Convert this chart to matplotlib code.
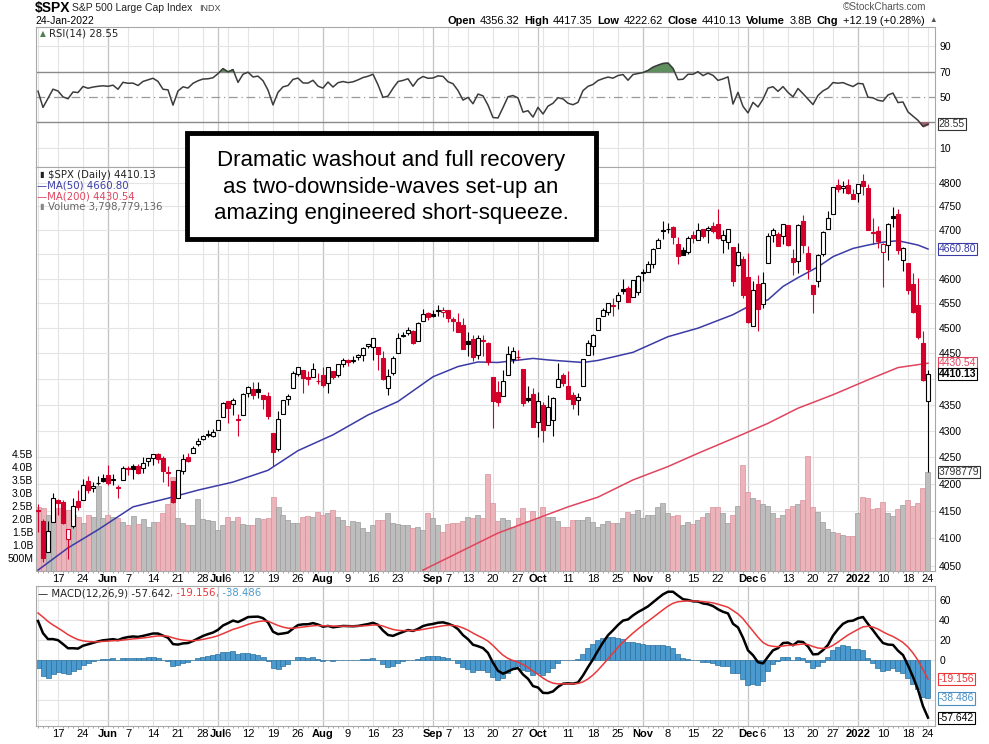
import numpy as np
import pandas as pd
import matplotlib
matplotlib.use('Agg')
import matplotlib.pyplot as plt
from matplotlib.patches import Rectangle
from matplotlib.transforms import blended_transform_factory as blend
from matplotlib.ticker import NullLocator

# ---------------- data ----------------
holidays = ['2021-05-31', '2021-07-05', '2021-09-06', '2021-11-25', '2021-12-24', '2022-01-17']
dates = [d for d in pd.bdate_range('2021-05-11', '2022-01-24') if d.strftime('%Y-%m-%d') not in holidays]

prev_close = 4188.43  # close of the day before the first bar

opens = [
    4150.3, 4130.6, 4075.0, 4129.6, 4169.9, 4165.9, 4098.5, 4121.0, 4168.6, 4170.2,
    4205.9, 4191.6, 4201.9, 4210.8, 4216.5, 4206.8, 4191.4, 4206.1, 4229.3, 4233.8,
    4233.0, 4228.6, 4242.9, 4248.3, 4255.3, 4248.9, 4220.4, 4204.8, 4173.4, 4224.6,
    4249.3, 4257.0, 4274.5, 4284.9, 4293.2, 4290.7, 4300.7, 4326.6, 4356.5, 4351.0,
    4321.1, 4329.4, 4372.4, 4381.1, 4380.1, 4369.0, 4367.4, 4296.4, 4265.1, 4331.1,
    4361.3, 4381.2, 4409.6, 4416.4, 4403.0, 4403.6, 4395.1, 4406.9, 4392.7, 4415.9,
    4407.9, 4429.1, 4437.8, 4435.8, 4442.2, 4446.1, 4464.8, 4461.7, 4462.1, 4440.9,
    4382.4, 4410.6, 4450.3, 4484.4, 4490.5, 4493.8, 4474.1, 4513.8, 4529.8, 4528.8,
    4534.5, 4532.4, 4535.4, 4518.1, 4513.0, 4506.9, 4474.8, 4479.3, 4447.5, 4477.1,
    4469.7, 4403.0, 4374.5, 4367.4, 4406.8, 4438.0, 4442.1, 4419.5, 4362.4, 4370.7,
    4317.2, 4348.8, 4309.9, 4319.6, 4383.7, 4406.5, 4385.4, 4368.3, 4358.0, 4386.8,
    4447.7, 4463.7, 4497.3, 4524.4, 4532.2, 4546.1, 4553.7, 4578.7, 4580.2, 4562.8,
    4572.9, 4610.6, 4613.3, 4630.7, 4662.9, 4699.3, 4701.5, 4707.3, 4670.3, 4659.4,
    4655.2, 4689.3, 4679.4, 4701.5, 4700.7, 4708.4, 4712.0, 4678.5, 4675.8, 4664.6,
    4628.8, 4640.3, 4602.8, 4504.7, 4589.5, 4548.4, 4632.0, 4690.9, 4691.0, 4687.6,
    4710.3, 4643.0, 4636.5, 4719.1, 4652.5, 4587.9, 4595.0, 4650.4, 4703.1, 4734.0,
    4795.5, 4788.6, 4794.2, 4775.2, 4778.1, 4804.5, 4788.0, 4693.4, 4697.7, 4655.3,
    4669.1, 4728.6, 4733.6, 4638.0, 4632.2, 4588.0, 4547.4, 4471.4, 4356.32]
highs = [
    4162.0, 4134.7, 4131.6, 4183.1, 4171.9, 4169.1, 4116.9, 4172.8, 4188.7, 4209.5,
    4213.4, 4202.6, 4213.4, 4218.4, 4234.1, 4217.4, 4197.4, 4233.5, 4232.3, 4236.7,
    4237.1, 4249.7, 4248.4, 4255.6, 4257.2, 4251.9, 4232.3, 4204.8, 4226.2, 4255.8,
    4256.6, 4271.3, 4286.1, 4292.1, 4300.5, 4302.4, 4320.7, 4355.4, 4356.5, 4361.9,
    4330.9, 4371.6, 4386.7, 4393.7, 4393.4, 4369.0, 4375.1, 4296.4, 4336.8, 4359.7,
    4369.9, 4415.2, 4422.7, 4416.4, 4415.5, 4430.0, 4412.3, 4422.2, 4423.8, 4416.2,
    4429.1, 4440.8, 4439.4, 4445.2, 4449.4, 4461.8, 4468.4, 4480.3, 4462.1, 4454.3,
    4418.6, 4444.4, 4489.9, 4492.8, 4501.7, 4495.9, 4513.3, 4537.4, 4531.4, 4537.1,
    4545.9, 4541.5, 4535.4, 4521.8, 4529.9, 4520.5, 4493.0, 4485.7, 4486.9, 4485.9,
    4471.5, 4403.0, 4394.9, 4416.8, 4465.4, 4463.1, 4457.3, 4419.5, 4385.6, 4382.6,
    4375.2, 4355.5, 4369.2, 4365.6, 4430.0, 4412.0, 4415.9, 4374.9, 4372.9, 4439.7,
    4475.8, 4488.8, 4520.4, 4540.9, 4551.4, 4559.7, 4572.6, 4598.5, 4584.6, 4597.6,
    4608.1, 4620.3, 4635.2, 4663.5, 4683.0, 4718.5, 4714.9, 4708.5, 4684.9, 4664.6,
    4688.5, 4697.4, 4715.0, 4701.5, 4708.8, 4717.8, 4743.8, 4699.4, 4702.9, 4664.6,
    4672.9, 4646.0, 4652.9, 4595.5, 4608.0, 4612.6, 4694.0, 4705.1, 4695.3, 4713.6,
    4710.3, 4660.5, 4712.6, 4732.0, 4666.7, 4587.9, 4651.1, 4697.7, 4740.7, 4791.5,
    4807.0, 4804.1, 4808.9, 4786.8, 4796.6, 4818.6, 4797.7, 4725.0, 4708.0, 4673.0,
    4714.1, 4748.8, 4744.1, 4665.1, 4632.2, 4611.6, 4602.1, 4494.5, 4417.35]
lows = [
    4111.5, 4056.9, 4075.0, 4129.6, 4142.7, 4125.0, 4061.4, 4119.0, 4151.7, 4170.2,
    4182.5, 4184.1, 4197.8, 4203.6, 4197.6, 4198.3, 4173.9, 4206.1, 4215.7, 4208.4,
    4218.7, 4220.3, 4233.0, 4234.1, 4238.4, 4202.5, 4196.1, 4164.4, 4173.4, 4217.3,
    4241.4, 4257.0, 4271.2, 4281.3, 4287.0, 4287.8, 4300.7, 4326.6, 4314.4, 4329.8,
    4289.4, 4329.4, 4364.0, 4360.9, 4362.4, 4340.7, 4322.5, 4233.1, 4262.1, 4331.1,
    4350.1, 4381.2, 4405.5, 4372.5, 4387.0, 4403.6, 4389.9, 4384.8, 4373.0, 4400.2,
    4404.4, 4424.0, 4424.7, 4430.0, 4436.4, 4435.5, 4460.7, 4437.7, 4417.8, 4397.6,
    4367.7, 4406.8, 4450.3, 4482.7, 4485.7, 4469.0, 4474.1, 4513.8, 4515.8, 4522.0,
    4524.7, 4521.6, 4513.0, 4494.0, 4492.1, 4457.7, 4445.7, 4435.5, 4438.4, 4443.8,
    4427.8, 4305.9, 4348.0, 4367.4, 4406.8, 4430.3, 4436.2, 4346.3, 4355.1, 4306.2,
    4288.5, 4278.9, 4309.9, 4290.5, 4383.7, 4386.2, 4360.6, 4342.1, 4329.9, 4386.8,
    4447.7, 4447.5, 4496.4, 4524.4, 4526.9, 4524.0, 4537.4, 4569.2, 4551.7, 4562.8,
    4567.6, 4595.1, 4613.3, 4621.2, 4662.6, 4681.3, 4694.4, 4670.9, 4630.9, 4648.3,
    4650.8, 4672.9, 4679.4, 4684.4, 4672.8, 4694.2, 4682.2, 4652.7, 4659.9, 4585.4,
    4625.3, 4560.0, 4510.3, 4504.7, 4495.1, 4540.5, 4632.0, 4674.5, 4666.0, 4670.2,
    4667.6, 4606.5, 4611.2, 4651.9, 4600.2, 4531.1, 4583.2, 4645.5, 4703.1, 4734.0,
    4780.0, 4778.1, 4775.3, 4765.8, 4758.2, 4774.3, 4699.4, 4671.3, 4662.7, 4582.2,
    4638.3, 4706.7, 4650.3, 4614.8, 4568.7, 4530.2, 4478.0, 4395.3, 4222.62]
closes = [
    4152.1, 4063.0, 4112.5, 4173.9, 4163.3, 4127.8, 4115.7, 4159.1, 4155.9, 4197.1,
    4188.1, 4196.0, 4200.9, 4204.1, 4202.0, 4208.1, 4192.9, 4229.9, 4226.5, 4227.3,
    4219.6, 4239.2, 4247.4, 4255.2, 4246.6, 4223.7, 4221.9, 4166.5, 4224.8, 4246.4,
    4241.8, 4266.5, 4280.7, 4290.6, 4291.8, 4297.5, 4319.9, 4352.3, 4343.5, 4358.1,
    4320.8, 4369.6, 4384.6, 4369.2, 4374.3, 4360.0, 4327.2, 4258.5, 4323.1, 4358.7,
    4367.5, 4411.8, 4422.3, 4401.5, 4400.6, 4419.2, 4395.3, 4387.2, 4423.2, 4402.7,
    4429.1, 4436.5, 4432.4, 4436.8, 4447.7, 4460.8, 4468.0, 4479.7, 4448.1, 4400.3,
    4405.8, 4441.7, 4479.5, 4486.2, 4496.2, 4470.0, 4509.4, 4528.8, 4522.7, 4524.1,
    4537.0, 4535.4, 4520.0, 4514.1, 4493.3, 4458.6, 4468.7, 4443.1, 4480.7, 4473.8,
    4433.0, 4357.7, 4354.2, 4395.6, 4449.0, 4455.5, 4443.1, 4352.6, 4359.5, 4307.5,
    4357.0, 4300.5, 4345.7, 4363.6, 4399.8, 4391.3, 4361.2, 4350.7, 4363.8, 4438.3,
    4471.4, 4486.5, 4519.6, 4536.2, 4549.8, 4544.9, 4566.5, 4574.8, 4551.7, 4596.4,
    4605.4, 4613.7, 4630.7, 4660.6, 4680.1, 4697.5, 4701.7, 4685.3, 4646.7, 4649.3,
    4682.9, 4682.8, 4700.9, 4688.7, 4704.5, 4698.0, 4682.9, 4690.7, 4701.5, 4594.6,
    4655.3, 4567.0, 4513.0, 4577.1, 4538.4, 4591.7, 4686.8, 4701.2, 4667.5, 4712.0,
    4669.0, 4634.1, 4709.9, 4668.7, 4620.6, 4568.0, 4649.2, 4696.6, 4725.8, 4791.2,
    4786.4, 4793.1, 4778.7, 4766.2, 4796.6, 4793.5, 4700.6, 4696.1, 4677.0, 4670.3,
    4713.1, 4726.4, 4659.0, 4662.9, 4577.1, 4532.8, 4482.7, 4397.9, 4410.13]
# volume, billions of shares
volumes = [
    2.44, 2.40, 2.15, 2.27, 2.40, 2.34, 2.34, 2.15, 2.08, 1.85,
    2.15, 2.08, 3.26, 2.02, 2.15, 2.08, 2.02, 1.89, 1.76, 2.11,
    1.80, 1.98, 1.70, 1.89, 1.89, 2.23, 2.57, 3.59, 2.02, 1.85,
    1.76, 1.76, 2.75, 1.99, 1.95, 1.93, 1.57, 1.76, 2.08, 1.93,
    2.08, 1.80, 1.75, 1.78, 2.02, 1.99, 2.02, 2.85, 2.46, 2.15,
    1.95, 1.83, 1.83, 2.08, 2.11, 2.08, 2.27, 2.15, 2.21, 2.34,
    2.08, 1.95, 1.72, 1.93, 1.89, 1.64, 1.51, 1.76, 1.95, 1.95,
    2.23, 1.85, 1.80, 1.76, 1.76, 1.66, 1.67, 1.57, 2.21, 2.02,
    1.76, 1.51, 1.80, 1.83, 1.85, 1.93, 2.08, 2.02, 2.13, 2.02,
    3.72, 2.62, 1.93, 2.02, 1.95, 1.67, 2.02, 2.40, 1.93, 2.30,
    2.02, 2.44, 2.08, 2.08, 1.93, 1.70, 1.70, 1.95, 1.95, 1.95,
    2.06, 1.89, 1.67, 1.80, 1.92, 1.85, 1.85, 2.02, 2.27, 2.18,
    2.34, 2.02, 2.15, 2.15, 2.46, 2.59, 2.23, 2.11, 2.15, 1.76,
    1.89, 1.80, 1.95, 2.08, 2.23, 2.44, 2.44, 2.23, 1.85, 2.15,
    2.49, 4.06, 3.04, 2.78, 2.72, 2.57, 2.49, 2.23, 2.02, 2.15,
    2.36, 2.49, 2.57, 2.72, 4.41, 2.46, 2.27, 1.89, 1.60, 1.51,
    1.47, 1.38, 1.34, 1.34, 2.23, 2.82, 2.78, 2.36, 2.43, 2.63,
    2.23, 2.11, 2.36, 2.53, 2.72, 2.49, 2.59, 3.17, 3.80]

# moving averages (trading-day number, value)
ma50_day = [0, 6, 12, 19, 26, 32, 39, 46, 52, 59, 66, 72, 79, 84, 88, 92, 99, 102, 109, 112,
            119, 126, 132, 139, 142, 146, 149, 152, 156, 159, 163, 166, 169, 172, 176, 178]
ma50_val = [4042, 4082, 4115, 4157, 4173, 4188, 4203, 4225, 4262, 4292, 4330, 4356, 4404, 4424,
            4433, 4432, 4440, 4437, 4432, 4436, 4452, 4483, 4500, 4527, 4543, 4557, 4584, 4602,
            4624, 4645, 4662, 4669, 4675, 4678, 4669, 4660.80]
ma200_day = [77, 92, 106, 112, 119, 126, 132, 139, 146, 152, 159, 166, 172, 178]
ma200_val = [4042, 4109, 4157, 4175, 4207, 4232, 4257, 4285, 4314, 4343, 4369, 4398, 4422, 4430.54]

# indicator state on the day before the first bar, estimated from the first readings
rsi_gain_start, rsi_loss_start = 13.1, 8.1
ema12_start, ema26_start, signal_start = 4185.0, 4140.0, 49.0

tick_dates = ['2021-05-17', '2021-05-24', '2021-06-01', '2021-06-07', '2021-06-14', '2021-06-21',
              '2021-06-28', '2021-07-01', '2021-07-06', '2021-07-12', '2021-07-19', '2021-07-26',
              '2021-08-02', '2021-08-09', '2021-08-16', '2021-08-23', '2021-09-01', '2021-09-07',
              '2021-09-13', '2021-09-20', '2021-09-27', '2021-10-01', '2021-10-11', '2021-10-18',
              '2021-10-25', '2021-11-01', '2021-11-08', '2021-11-15', '2021-11-22', '2021-12-01',
              '2021-12-06', '2021-12-13', '2021-12-20', '2021-12-27', '2022-01-03', '2022-01-10',
              '2022-01-18', '2022-01-24']
tick_texts = ['17', '24', 'Jun', '7', '14', '21', '28', 'Jul', '6', '12', '19', '26', 'Aug', '9',
              '16', '23', 'Sep', '7', '13', '20', '27', 'Oct', '11', '18', '25', 'Nov', '8', '15',
              '22', 'Dec', '6', '13', '20', '27', '2022', '10', '18', '24']
month_texts = {'Jun', 'Jul', 'Aug', 'Sep', 'Oct', 'Nov', 'Dec', '2022'}

price_ticks = list(range(4050, 4801, 50))
price_hidden = {4400, 4650}          # covered by the value boxes on the chart
vol_ticks = [0.5, 1.0, 1.5, 2.0, 2.5, 3.0, 3.5, 4.0, 4.5]
vol_tick_text = ['500M', '1.0B', '1.5B', '2.0B', '2.5B', '3.0B', '3.5B', '4.0B', '4.5B']
rsi_ticks = [10, 50, 70, 90]
macd_ticks = [0, 20, 40, 60]

# ---------------- indicators from the closes ----------------
n = len(closes)
x = np.arange(n)
c_arr = np.array(closes)
prevs = np.concatenate([[prev_close], c_arr[:-1]])

rsi = []
g, l = rsi_gain_start, rsi_loss_start
for ch in c_arr - prevs:
    g = (g * 13 + max(ch, 0)) / 14
    l = (l * 13 + max(-ch, 0)) / 14
    rsi.append(100 - 100 / (1 + g / l))
rsi = np.array(rsi)

macd, signal = [], []
e12, e26, sg = ema12_start, ema26_start, signal_start
for c in c_arr:
    e12 += (c - e12) * 2 / 13
    e26 += (c - e26) * 2 / 27
    m = e12 - e26
    sg += (m - sg) * 0.2
    macd.append(m)
    signal.append(sg)
macd, signal = np.array(macd), np.array(signal)
hist = macd - signal

# ---------------- figure ----------------
W, H = 989, 744
fig = plt.figure(figsize=(W / 100, H / 100), dpi=100)
fx = lambda px: px / W
fy = lambda py: 1 - py / H

RED = '#d4002c'
GRID = '#e4e4e4'
GRID_M = '#c4c4c4'
SPINE = '#a8a8a8'
FONT = ['Liberation Sans', 'DejaVu Sans']

left, right = 36, 935
ax_r = fig.add_axes([fx(left), fy(167), (right - left) / W, 140 / H])
ax_p = fig.add_axes([fx(left), fy(571), (right - left) / W, 404 / H])
ax_v = ax_p.twinx()
ax_m = fig.add_axes([fx(left), fy(726), (right - left) / W, 140 / H])

xlim = (-0.4, n + 0.4)
week_starts = [i for i in range(n) if i == 0 or dates[i].weekday() < dates[i - 1].weekday()]
month_starts = [i for i in range(1, n) if dates[i].month != dates[i - 1].month]
pos = {d.strftime('%Y-%m-%d'): i for i, d in enumerate(dates)}
tick_pos = [pos[d] for d in tick_dates]

def vgrid(ax):
    for i in week_starts:
        ax.axvline(i, color=GRID, lw=0.8, zorder=0)
    for i in month_starts:
        ax.axvline(i, color=GRID_M, lw=0.9, zorder=0)

def style(ax):
    for s in ax.spines.values():
        s.set_color(SPINE)
        s.set_linewidth(0.8)
    ax.set_xlim(*xlim)
    ax.tick_params(axis='y', which='both', length=0, labelsize=7.5, pad=3)

def value_box(ax, trans, yv, txt, col, wt='normal'):
    ax.text(1.004, yv, txt, transform=trans, ha='left', va='center', fontsize=7.5,
            family=FONT, color=col, weight=wt, zorder=6, clip_on=False,
            bbox=dict(boxstyle='square,pad=0.1', fc='white', ec=col, lw=0.8))

# ---- RSI panel ----
style(ax_r)
vgrid(ax_r)
ax_r.set_ylim(-5.1, 105.1)
for lv in (10, 90):
    ax_r.axhline(lv, color=GRID, lw=0.8, zorder=0)
ax_r.axhline(70, color='#8a8a8a', lw=1.0, zorder=1)
ax_r.axhline(30, color='#8a8a8a', lw=1.0, zorder=1)
ax_r.axhline(50, color='#9a9a9a', lw=0.9, ls=(0, (7, 3, 1, 3)), zorder=1)
ax_r.fill_between(x, rsi, 70, where=rsi > 70, interpolate=True, color='#5f8f5f', zorder=2)
ax_r.fill_between(x, rsi, 30, where=rsi < 30, interpolate=True, color='#a0606e', zorder=2)
ax_r.plot(x, rsi, color='#3c3c3c', lw=1.1, zorder=3)
ax_r.yaxis.tick_right()
ax_r.set_yticks(rsi_ticks)
ax_r.set_yticklabels([str(v) for v in rsi_ticks], family=FONT, fontsize=7.5)
ax_r.set_xticks([])
value_box(ax_r, blend(ax_r.transAxes, ax_r.transData), rsi[-1], '28.55', '#333333')

# ---- price panel (volume behind) ----
ax_p.set_zorder(2)
ax_v.set_zorder(1)
ax_p.patch.set_visible(False)
ax_v.patch.set_visible(True)
ax_v.patch.set_facecolor('white')
style(ax_p)
for s in ax_v.spines.values():
    s.set_visible(False)
ax_p.set_yscale('log')
ax_p.set_ylim(4040.4, 4833.5)
vol_top = 404 / 26.1
ax_v.set_ylim(0, vol_top)
vgrid(ax_v)
ht = blend(ax_v.transAxes, ax_p.transData)
for p in price_ticks:
    ax_v.plot([0, 1], [p, p], transform=ht, color=GRID, lw=0.8, zorder=0)

up = c_arr >= prevs
ax_v.bar(x, volumes, width=1.0, color=np.where(up, '#bdbdbd', '#ebb3ba'),
         edgecolor=np.where(up, '#9c9c9c', '#d9919b'), lw=0.5, zorder=2)
ax_v.yaxis.set_ticks_position('left')
ax_v.set_yticks(vol_ticks)
ax_v.set_yticklabels(vol_tick_text, family=FONT, fontsize=7.5)
ax_v.tick_params(axis='y', length=0, pad=2)

ax_p.plot(ma50_day, ma50_val, color='#3b3ba6', lw=1.1, zorder=3)
ax_p.plot(ma200_day, ma200_val, color='#e0445e', lw=1.1, zorder=3)

for i in range(n):
    o, h, lo, c = opens[i], highs[i], lows[i], closes[i]
    col = RED if c < prevs[i] else 'black'
    face = col if c < o else 'white'
    ax_p.vlines(i, lo, h, color=col, lw=0.8, zorder=4)
    ax_p.bar(i, max(abs(c - o), 0.6), bottom=min(o, c), width=0.7, color=face,
             edgecolor=col, lw=0.8, zorder=5)

ax_p.yaxis.tick_right()
ax_p.yaxis.set_minor_locator(NullLocator())
ax_p.set_yticks(price_ticks)
ax_p.set_yticklabels(['' if p in price_hidden else str(p) for p in price_ticks],
                     family=FONT, fontsize=7.5)
ax_p.tick_params(axis='y', which='both', length=0, pad=3)

pt = blend(ax_p.transAxes, ax_p.transData)
value_box(ax_p, pt, 4660.80, '4660.80', '#3b3ba6')
value_box(ax_p, pt, 4430.54, '4430.54', '#e0445e')
value_box(ax_p, pt, 4410.13, '4410.13', 'black', 'bold')
value_box(ax_p, ax_p.transAxes, volumes[-1] / vol_top, '3798779', '#333333')

# ---- MACD panel ----
style(ax_m)
vgrid(ax_m)
ax_m.set_ylim(-66, 74)
for lv in range(-60, 61, 20):
    ax_m.axhline(lv, color=GRID, lw=0.8, zorder=0)
ax_m.bar(x, hist, width=1.0, color='#4a9ad0', edgecolor='#2c6f9c', lw=0.5, zorder=2)
ax_m.plot(x, macd, color='black', lw=1.8, zorder=3)
ax_m.plot(x, signal, color='#e8383a', lw=1.1, zorder=4)
ax_m.yaxis.tick_right()
ax_m.set_yticks(macd_ticks)
ax_m.set_yticklabels([str(v) for v in macd_ticks], family=FONT, fontsize=7.5)
mt = blend(ax_m.transAxes, ax_m.transData)
value_box(ax_m, mt, -19.156, '-19.156', '#e8383a')
value_box(ax_m, mt, -38.486, '-38.486', '#4a8fc4')
value_box(ax_m, mt, -57.642, '-57.642', 'black')

# ---- x tick labels ----
for ax in (ax_p, ax_m):
    ax.set_xticks(tick_pos)
    ax.set_xticklabels(tick_texts, family=FONT, fontsize=8)
    for t in ax.get_xticklabels():
        if t.get_text() in month_texts:
            t.set_weight('bold')
    ax.set_xticks(x, minor=True)
    ax.tick_params(axis='x', which='major', length=0, pad=2)
    ax.tick_params(axis='x', which='minor', length=1.5, color='#999999', width=0.6)
    ax.set_xlim(*xlim)

# ---------------- texts ----------------
r = fig.canvas.get_renderer()

def seq(x0, y0, parts, gap=3):
    xx = x0
    for s, props in parts:
        t = fig.text(fx(xx), fy(y0), s, ha='left', va='center', **props)
        xx += t.get_window_extent(renderer=r).width + gap
    return xx

fig.text(fx(35), fy(8), '$SPX', fontsize=10, weight='bold', family=FONT, va='center')
fig.text(fx(72), fy(8), 'S&P 500 Large Cap Index', fontsize=7.5, family=FONT, va='center',
         color='#222222')
fig.text(fx(199), fy(8.5), 'INDX', fontsize=6.5, family=FONT, va='center', color='#444444')
fig.text(fx(35), fy(21), '24-Jan-2022', fontsize=7.5, family=FONT, va='center')
fig.text(fx(926), fy(7), '\u00a9StockCharts.com', fontsize=7.2, family=FONT, va='center',
         ha='right', color='#555555')

hdr = []
for k, v in [('Open', '4356.32'), ('High', '4417.35'), ('Low', '4222.62'), ('Close', '4410.13'),
             ('Volume', '3.8B'), ('Chg', '+12.19 (+0.28%)')]:
    hdr.append((k, dict(fontsize=7.9, weight='bold', family=FONT)))
    hdr.append((v, dict(fontsize=7.9, family=FONT)))
hdr.append(('\u25b2', dict(fontsize=5.5, family=FONT, color='#555555')))
seq(447, 21, hdr, gap=4.5)

LEG = dict(fontsize=7.3, family=['DejaVu Sans'])
fig.text(fx(40), fy(34), '\u25b2', fontsize=5.5, color='#4f7f4f', va='center')
fig.text(fx(49), fy(34), 'RSI(14) 28.55', va='center', color='#222222', **LEG)
fig.text(fx(39), fy(175), '\u25ae', fontsize=6, color='#222222', va='center')
fig.text(fx(48), fy(175), '$SPX (Daily) 4410.13', va='center', color='#222222', **LEG)
fig.text(fx(37), fy(185.5), '\u2014MA(50) 4660.80', va='center', color='#3b3ba6', **LEG)
fig.text(fx(37), fy(196.5), '\u2014MA(200) 4430.54', va='center', color='#e0445e', **LEG)
fig.text(fx(39), fy(207), '\u25ae', fontsize=6, color='#888888', va='center')
fig.text(fx(48), fy(207), 'Volume 3,798,779,136', va='center', color='#666666', **LEG)
seq(38, 593, [('\u2014 MACD(12,26,9) -57.642', dict(color='#222222', **LEG)),
              (', -19.156', dict(color='#e8383a', **LEG)),
              (', -38.486', dict(color='#4a9ad0', **LEG))], gap=0)

# annotation box
fig.add_artist(Rectangle((fx(187), fy(239)), 409 / W, 106 / H, transform=fig.transFigure,
                         fc='white', ec='black', lw=3.5, zorder=10))
fig.text(fx(391), fy(187), 'Dramatic washout and full recovery\nas two-downside-waves set-up an\n'
         'amazing engineered short-squeeze.', ha='center', va='center', fontsize=16,
         family=FONT, linespacing=1.32, zorder=11)

fig.savefig('out.png', dpi=100)
